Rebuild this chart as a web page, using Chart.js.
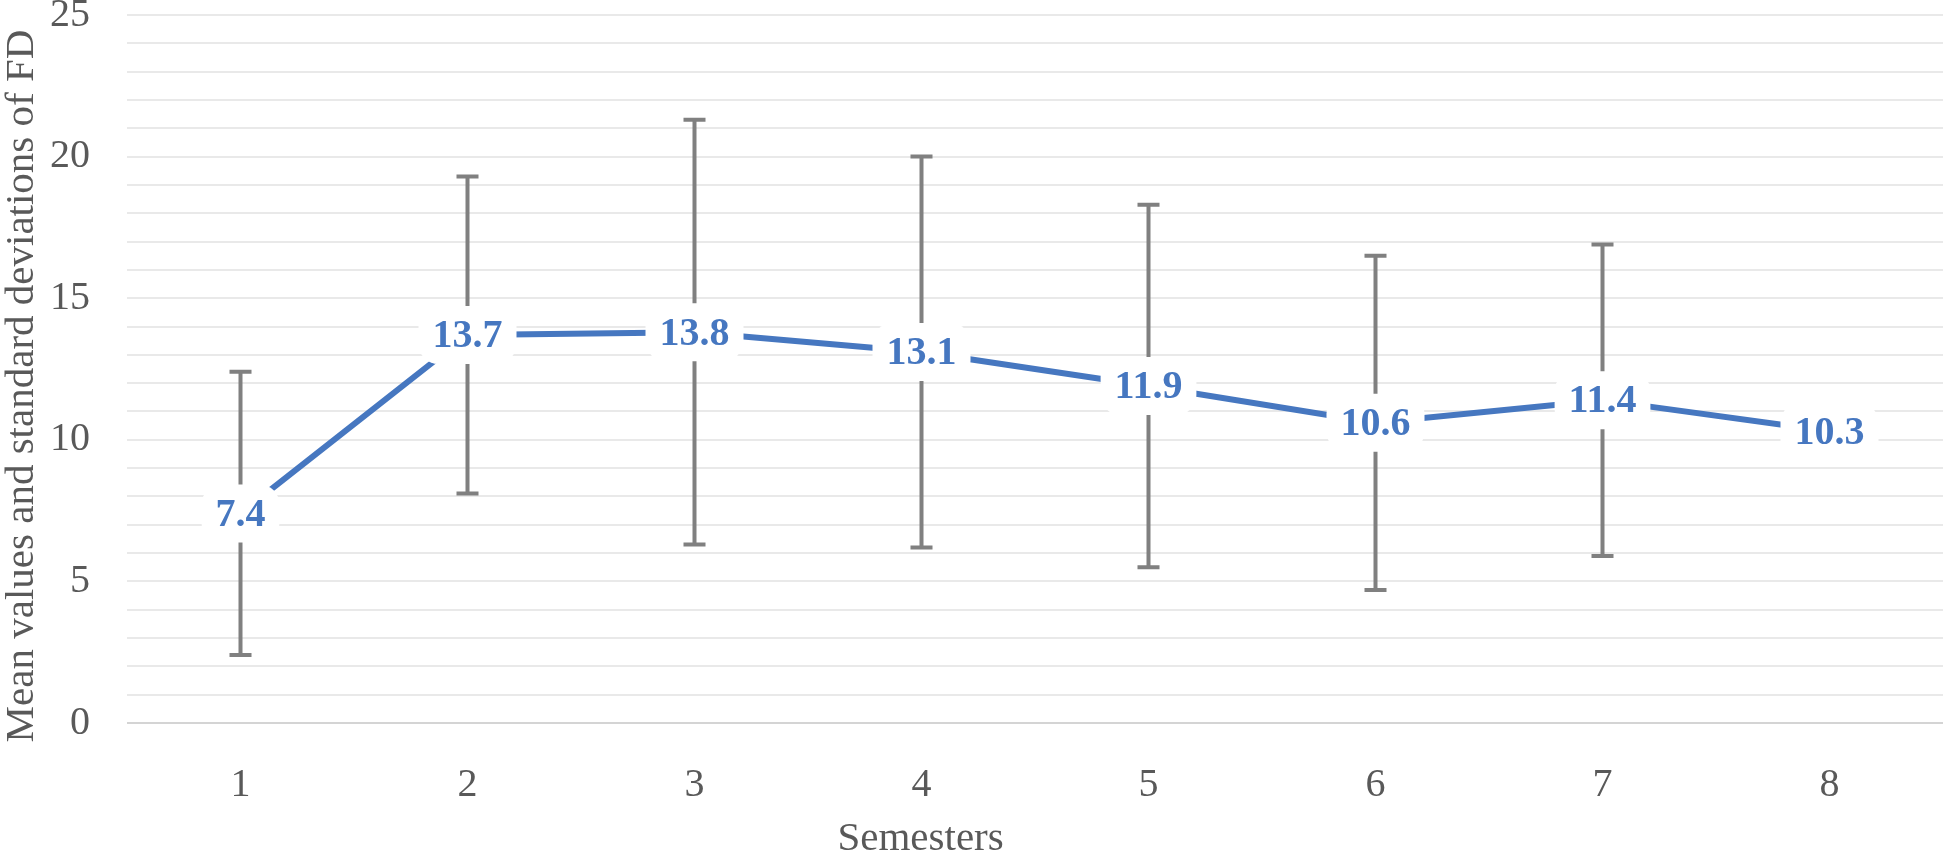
<!DOCTYPE html>
<html>
<head>
<meta charset="utf-8">
<script src="https://cdn.jsdelivr.net/npm/chart.js@4/dist/chart.umd.min.js"></script>
<style>
  html, body { margin: 0; padding: 0; background: #fff; }
  #wrap { width: 1946px; height: 851px; }
</style>
</head>
<body>
<div id="wrap"><canvas id="chart"></canvas></div>
<script>
const semesters = ['1', '2', '3', '4', '5', '6', '7', '8'];
const means = [7.4, 13.7, 13.8, 13.1, 11.9, 10.6, 11.4, 10.3];
const stdDevs = [5.0, 5.6, 7.5, 6.9, 6.4, 5.9, 5.5, null];
const yTicks = [0, 5, 10, 15, 20, 25];

const font = "'Liberation Serif', 'Times New Roman', serif";
const textGrey = '#595959';
const blue = '#4677c0';

// error bars, drawn under the line
const errorBars = {
  id: 'errorBars',
  beforeDatasetsDraw(chart) {
    const {ctx, scales: {x, y}} = chart;
    ctx.save();
    ctx.strokeStyle = '#808080';
    ctx.lineWidth = 4;
    stdDevs.forEach((sd, i) => {
      if (sd == null) return;
      const px = x.getPixelForValue(i);
      const top = y.getPixelForValue(means[i] + sd);
      const bot = y.getPixelForValue(means[i] - sd);
      ctx.beginPath();
      ctx.moveTo(px, top); ctx.lineTo(px, bot);
      ctx.moveTo(px - 11, top); ctx.lineTo(px + 11, top);
      ctx.moveTo(px - 11, bot); ctx.lineTo(px + 11, bot);
      ctx.stroke();
    });
    ctx.restore();
  }
};

// value labels with white rounded boxes
const valueLabels = {
  id: 'valueLabels',
  afterDatasetsDraw(chart) {
    const {ctx} = chart;
    const meta = chart.getDatasetMeta(0);
    ctx.save();
    ctx.font = 'bold 40px ' + font;
    ctx.textAlign = 'center';
    ctx.textBaseline = 'middle';
    meta.data.forEach((pt, i) => {
      const txt = means[i].toFixed(1);
      const w = ctx.measureText(txt).width + 28;
      const h = 58;
      ctx.fillStyle = '#fff';
      ctx.beginPath();
      ctx.roundRect(pt.x - w / 2, pt.y - h / 2, w, h, 20);
      ctx.fill();
      ctx.fillStyle = blue;
      ctx.fillText(txt, pt.x, pt.y + 2);
    });
    ctx.restore();
  }
};

// axis titles, placed as in the original (x title left of centre)
const axisTitles = {
  id: 'axisTitles',
  afterDraw(chart) {
    const {ctx, chartArea} = chart;
    ctx.save();
    ctx.font = '41px ' + font;
    ctx.fillStyle = textGrey;
    ctx.textAlign = 'center';
    ctx.textBaseline = 'alphabetic';
    const cx = chartArea.left + (chartArea.right - chartArea.left) * 0.437;
    ctx.fillText('Semesters', cx, 850);
    ctx.translate(0, 386);
    ctx.rotate(-Math.PI / 2);
    ctx.textBaseline = 'middle';
    ctx.fillText('Mean values and standard deviations of FD', 0, 22);
    ctx.restore();
  }
};

new Chart(document.getElementById('chart'), {
  type: 'line',
  data: {
    labels: semesters,
    datasets: [{
      data: means,
      borderColor: blue,
      borderWidth: 6,
      pointRadius: 0,
      tension: 0
    }]
  },
  options: {
    responsive: true,
    maintainAspectRatio: false,
    animation: false,
    layout: { padding: { top: 15, right: 3, left: 0, bottom: 0 } },
    plugins: { legend: { display: false }, tooltip: { enabled: false } },
    scales: {
      x: {
        offset: true,
        grid: { display: false },
        border: { display: false },
        ticks: { color: textGrey, font: { family: font, size: 40 }, padding: 30 },
        afterFit(scale) { scale.height = 128; scale.paddingLeft = 0; scale.paddingRight = 0; }
      },
      y: {
        min: 0,
        max: 25,
        border: { display: false },
        grid: {
          drawTicks: false,
          lineWidth: 2,
          color: ctx => ctx.tick && ctx.tick.value === 0 ? '#d4d4d4' : '#e9e9e9'
        },
        ticks: {
          stepSize: 1,
          maxTicksLimit: 30,
          autoSkip: false,
          padding: 37,
          color: textGrey,
          font: { family: font, size: 40 },
          callback: v => yTicks.includes(v) ? String(v) : ''
        },
        afterFit(scale) { scale.width = 127; scale.paddingTop = 0; scale.paddingBottom = 0; }
      }
    }
  },
  plugins: [errorBars, valueLabels, axisTitles]
});
</script>
</body>
</html>
